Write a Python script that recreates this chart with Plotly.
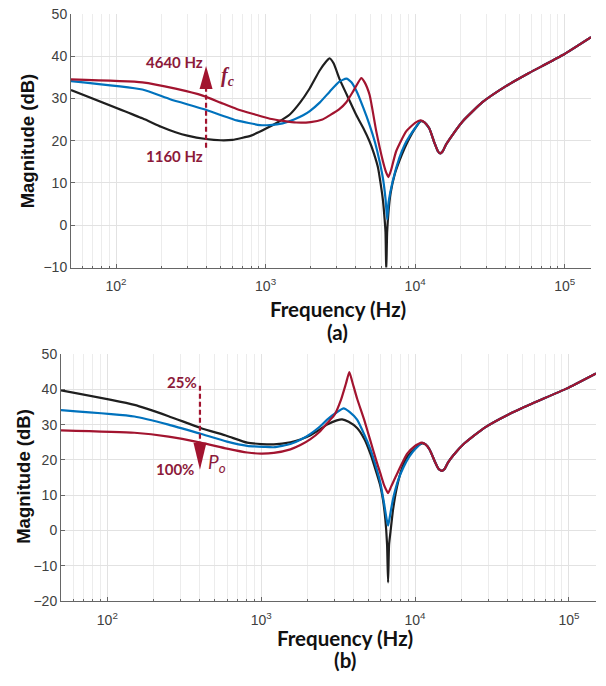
import numpy as np
import plotly.graph_objects as go

W, H = 606, 686

# ---------------- (a) magnitude vs frequency, varying fc ----------------
# shared high-frequency part (all three curves coincide there)
fa_tail = [11500, 12450, 13460, 14200, 14700, 15300, 16100, 17800, 20700, 28200, 40500, 57800, 96400, 150000]
ma_tail = [24.4, 22.9, 19.5, 17.5, 17.0, 17.5, 19.1, 21.4, 24.5, 29.1, 32.9, 36.0, 40.2, 44.5]

fa_black = [50, 150, 200, 250, 300, 400, 500, 600, 800, 1000, 1200, 1452, 1700, 1976, 2300, 2550, 2680,
            2850, 3130, 3500, 4050, 4500, 4960, 5300, 5640, 5900, 6090, 6250, 6340, 6410, 6500, 6650,
            6850, 7300, 7850, 8500, 9160, 10000, 10900]
ma_black = [32.0, 25.3, 23.3, 22.0, 21.2, 20.4, 20.1, 20.2, 21.2, 22.8, 24.3, 26.2, 29.0, 32.4, 36.6, 38.8,
            39.5, 38.3, 34.5, 30.8, 26.0, 23.0, 19.8, 17.0, 13.7, 9.5, 6.0, 1.5, -1.7, -11.0, -1.7, 3.5,
            7.5, 12.0, 15.2, 18.2, 20.6, 22.9, 24.6]

fa_blue = [50, 150, 230, 384, 641, 916, 1069, 1300, 1550, 1783, 1976, 2300, 2683, 3100, 3467, 3750, 4045,
           4500, 4963, 5400, 5780, 6100, 6350, 6500, 6650, 7100, 7853, 8500, 9160, 10000, 10900]
ma_blue = [34.1, 32.1, 29.8, 27.5, 24.8, 23.7, 23.7, 24.1, 25.0, 26.0, 27.0, 29.0, 31.6, 33.9, 34.7, 33.8,
           31.8, 27.8, 23.7, 19.5, 15.2, 11.0, 6.0, 1.4, 5.5, 10.6, 16.0, 19.0, 21.0, 23.0, 24.7]

fa_red = [50, 150, 250, 384, 500, 641, 850, 1069, 1309, 1600, 2000, 2400, 2683, 3100, 3467, 3900, 4365,
          4600, 4963, 5500, 6085, 6400, 6635, 6900, 7470, 8710, 10000, 10850]
ma_red = [34.5, 33.8, 32.3, 30.6, 29.0, 27.5, 26.2, 25.2, 24.7, 24.3, 24.4, 25.0, 26.0, 27.4, 29.1, 32.0,
          34.8, 33.8, 30.8, 22.2, 15.2, 12.5, 11.4, 13.0, 17.5, 22.2, 24.2, 24.8]

# ---------------- (b) magnitude vs frequency, varying Po ----------------
fb_tail = [11700, 12450, 13460, 14200, 14960, 15600, 16400, 17800, 20700, 28200, 40500, 57800, 96400, 150000]
mb_tail = [24.4, 22.9, 19.5, 17.5, 16.9, 17.5, 19.3, 21.4, 24.5, 29.1, 32.9, 36.0, 40.2, 44.5]

fb_black = [50, 150, 250, 404, 600, 811, 1000, 1208, 1549, 1799, 2090, 2400, 2684, 3100, 3357, 3700, 4200,
            4700, 5130, 5600, 5960, 6200, 6410, 6580, 6680, 6780, 6920, 7200, 7640, 8200, 8870, 10000,
            11090]
mb_black = [39.7, 35.6, 32.4, 29.05, 26.8, 24.9, 24.5, 24.4, 25.0, 25.8, 27.0, 28.6, 30.0, 31.2, 31.5,
            30.8, 29.05, 25.8, 21.7, 16.5, 12.5, 8.5, 3.2, -4.0, -14.7, -4.0, -0.5, 6.0, 12.5, 17.5,
            20.8, 23.3, 24.7]

fb_blue = [50, 150, 250, 404, 600, 811, 1040, 1208, 1549, 1799, 2090, 2400, 2684, 3100, 3436, 3750, 4200,
           4700, 5130, 5600, 5960, 6300, 6550, 6680, 6800, 7000, 7260, 7800, 8430, 9200, 10000, 11090]
mb_blue = [34.1, 32.3, 30.0, 27.4, 25.2, 24.0, 23.7, 23.6, 24.5, 25.7, 27.4, 29.4, 31.4, 33.5, 34.6, 33.6,
           31.4, 27.0, 23.0, 17.8, 13.4, 7.5, 3.0, 1.4, 3.0, 6.2, 9.7, 14.5, 18.0, 21.0, 23.0, 24.8]

fb_red = [50, 150, 250, 404, 600, 811, 1000, 1208, 1549, 1799, 2090, 2400, 2684, 3000, 3300, 3550, 3740,
          3900, 4200, 4700, 5130, 5600, 5960, 6300, 6680, 7000, 7640, 8870, 10000, 11040]
mb_red = [28.4, 27.7, 26.6, 24.9, 23.2, 22.1, 21.8, 22.0, 23.0, 24.2, 25.9, 28.0, 30.4, 32.8, 37.0, 41.5,
          44.9, 42.3, 37.4, 31.0, 25.4, 19.8, 16.1, 12.8, 10.6, 12.5, 16.1, 21.7, 24.0, 24.9]

x_tickvals = [100, 1000, 10000, 100000]
x_ticktext = ["10<sup>2</sup>", "10<sup>3</sup>", "10<sup>4</sup>", "10<sup>5</sup>"]
ya_ticks = [-10, 0, 10, 20, 30, 40, 50]
yb_ticks = [-20, -10, 0, 10, 20, 30, 40, 50]
x_range_hz = [50, 150000]

BLACK = "#1f1f1f"
BLUE = "#0072BD"
RED = "#A2142F"
ANN = "#8C1A3A"

minor_vals = [k * d for d in [10, 100, 1000, 10000, 100000] for k in range(2, 10)
              if x_range_hz[0] < k * d < x_range_hz[1]]

fig = go.Figure()
lw = 2.2
for f, m, c in [(fa_black, ma_black, BLACK), (fa_blue, ma_blue, BLUE), (fa_red, ma_red, RED)]:
    fig.add_trace(go.Scatter(x=f + fa_tail, y=m + ma_tail, mode="lines",
                             line=dict(color=c, width=lw, shape="spline", smoothing=0.5),
                             xaxis="x", yaxis="y", hoverinfo="skip"))
for f, m, c in [(fb_black, mb_black, BLACK), (fb_blue, mb_blue, BLUE), (fb_red, mb_red, RED)]:
    fig.add_trace(go.Scatter(x=f + fb_tail, y=m + mb_tail, mode="lines",
                             line=dict(color=c, width=lw, shape="spline", smoothing=0.5),
                             xaxis="x2", yaxis="y2", hoverinfo="skip"))


def px_x(p):
    return p / W


def px_y(p):
    return 1 - p / H


tickfont = dict(family="Liberation Sans", size=14, color="#404040")
common_x = dict(type="log", range=[np.log10(x_range_hz[0]), np.log10(x_range_hz[1])],
                tickvals=x_tickvals, ticktext=x_ticktext, tickfont=tickfont, ticklabelstandoff=6,
                showline=True, linecolor="#666", linewidth=1, ticks="inside", ticklen=4, tickcolor="#666",
                showgrid=True, gridcolor="#e2e2e2", gridwidth=1, zeroline=False,
                minor=dict(tickmode="array", tickvals=minor_vals, ticks="inside", ticklen=2, tickcolor="#666",
                           showgrid=True, gridcolor="#ececec", gridwidth=1))
common_y = dict(dtick=10, tickfont=tickfont, showline=True, linecolor="#666", linewidth=1,
                ticks="inside", ticklen=4, tickcolor="#666", showgrid=True, gridcolor="#e2e2e2",
                zeroline=False)

fig.update_layout(
    width=W, height=H, margin=dict(l=0, r=0, t=0, b=0),
    paper_bgcolor="white", plot_bgcolor="white", showlegend=False,
    xaxis=dict(common_x, domain=[px_x(71), px_x(591)], anchor="y"),
    yaxis=dict(common_y, domain=[px_y(265.7), px_y(6)], range=[-10, 50], tickvals=ya_ticks, anchor="x"),
    xaxis2=dict(common_x, domain=[px_x(61), px_x(596)], anchor="y2"),
    yaxis2=dict(common_y, domain=[px_y(607.3), px_y(354.3)], range=[-20, 50], tickvals=yb_ticks, anchor="x2"),
)

title_font = dict(family="Liberation Sans", size=18.5, color="#111")
cal_font = dict(family="Lato", size=20.5, color="#111")
anns = [
    dict(text="<b>Magnitude (dB)</b>", x=px_x(27.5), y=px_y(136), textangle=-90, font=title_font),
    dict(text="<b>Magnitude (dB)</b>", x=px_x(24), y=px_y(480), textangle=-90, font=title_font),
    dict(text="<b>Frequency (Hz)</b>", x=px_x(337.5), y=px_y(308), font=cal_font),
    dict(text="<b>(a)</b>", x=px_x(337), y=px_y(332), font=cal_font),
    dict(text="<b>Frequency (Hz)</b>", x=px_x(345), y=px_y(645), font=cal_font),
    dict(text="<b>(b)</b>", x=px_x(345), y=px_y(668), font=cal_font),
    dict(text="<b>4640 Hz</b>", x=px_x(174), y=px_y(55), font=dict(family="Lato", size=15, color=ANN)),
    dict(text="<b>1160 Hz</b>", x=px_x(174), y=px_y(152), font=dict(family="Lato", size=15, color=ANN)),
    dict(text="<b><i>f<sub>c</sub></i></b>", x=px_x(228), y=px_y(70),
         font=dict(family="Liberation Serif", size=20, color=ANN)),
    dict(text="<b>25%</b>", x=px_x(181.7), y=px_y(383), font=dict(family="Lato", size=15, color=ANN)),
    dict(text="<b>100%</b>", x=px_x(174.7), y=px_y(472.5), font=dict(family="Lato", size=15, color=ANN)),
    dict(text="<i>P<sub>o</sub></i>", x=px_x(217), y=px_y(466),
         font=dict(family="Lato", size=19, color=ANN)),
]
for a in anns:
    a.update(xref="paper", yref="paper", showarrow=False, xanchor="center", yanchor="middle")
fig.update_layout(annotations=anns)

# dashed arrows (decoration)
arrow_f = 400
shapes = [
    dict(type="line", xref="x", yref="y", x0=arrow_f, x1=arrow_f, y0=18.3, y1=32.5,
         line=dict(color=RED, width=2.2, dash="5px,3px")),
    dict(type="path", xref="x", yref="y", xsizemode="pixel", ysizemode="pixel",
         xanchor=arrow_f, yanchor=32.2, path="M -6.5,0 L 6.5,0 L 0,23 Z",
         fillcolor=RED, line=dict(width=0)),
    dict(type="line", xref="x2", yref="y2", x0=arrow_f, x1=arrow_f, y0=41.0, y1=24.6,
         line=dict(color=RED, width=2.2, dash="5px,3px")),
    dict(type="path", xref="x2", yref="y2", xsizemode="pixel", ysizemode="pixel",
         xanchor=arrow_f, yanchor=24.9, path="M -6.5,0 L 6.5,0 L 0,-27 Z",
         fillcolor=RED, line=dict(width=0)),
]
fig.update_layout(shapes=shapes)

fig.write_html("out.html")
